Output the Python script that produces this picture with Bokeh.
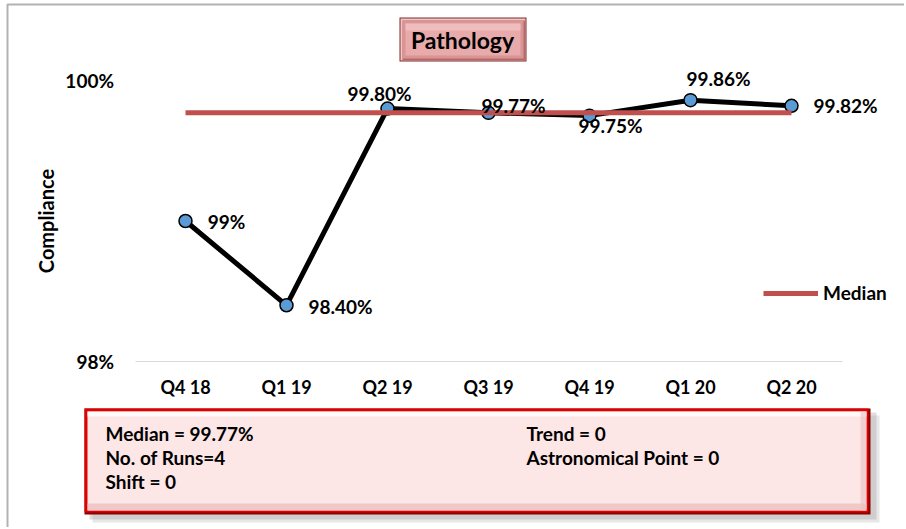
import numpy as np
from bokeh.plotting import figure
from bokeh.core.properties import value
from bokeh.models import (ColumnDataSource, LabelSet, Label, BoxAnnotation, FixedTicker,
                          CustomJSTickFormatter, Legend, LegendItem, Range1d)
from bokeh.embed import file_html
from bokeh.resources import INLINE

# ---------------- data ----------------
categories = ["Q4 18", "Q1 19", "Q2 19", "Q3 19", "Q4 19", "Q1 20", "Q2 20"]
values = [99.0, 98.4, 99.8, 99.77, 99.75, 99.86, 99.82]
value_labels = ["99%", "98.40%", "99.80%", "99.77%", "99.75%", "99.86%", "99.82%"]
y_ticks = [98, 100]
y_min, y_max = 98, 100
median_value = float(np.median(values))
n_runs = 4
shift = 0
trend = 0
astronomical_point = 0
chart_title = "Pathology"

# label offsets in pixels (styling)
label_dx = [41, 54, -8, 25, 21, 28, 54]
label_dy = [0, -1, 15, 7, -10, 22, 0]

FONT = "Lato"

# ---------------- geometry (page pixels) ----------------
W, H = 904, 527
FIRST_X = 185          # page x of first category centre
STEP = 101             # px per category
Y_LO_PX = 361          # page y of 98%
Y_HI_PX = 80           # page y of 100%
PX_PER_UNIT = (Y_LO_PX - Y_HI_PX) / (y_max - y_min)


def X(px):
    return (px - FIRST_X) / STEP


def Y(py):
    return y_min + (Y_LO_PX - py) / PX_PER_UNIT


def box(l, t, r, b, **kw):
    kw.setdefault("fill_alpha", 1)
    kw.setdefault("line_color", None)
    p.add_layout(BoxAnnotation(left=X(l), right=X(r), top=Y(t), bottom=Y(b), **kw))


xs = list(range(len(categories)))

p = figure(width=W, height=H, x_range=Range1d(X(0), X(W)), y_range=Range1d(Y(H), Y(0)),
           output_backend="svg", toolbar_location=None, min_border=0)
p.outline_line_color = None
p.grid.visible = False

# x axis drawn at the 98% level
p.xaxis.fixed_location = y_min
p.xaxis.ticker = FixedTicker(ticks=xs)
p.xaxis.major_label_overrides = {i: c for i, c in zip(xs, categories)}
p.xaxis.bounds = (-0.5, len(categories) - 0.5)
p.xaxis.axis_line_color = "#D9D9D9"
p.xaxis.axis_line_width = 1
p.xaxis.major_tick_line_color = None
p.xaxis.minor_tick_line_color = None
p.xaxis.major_label_standoff = 8
p.xaxis.major_label_text_font = FONT
p.xaxis.major_label_text_font_style = "bold"
p.xaxis.major_label_text_font_size = "18px"
p.xaxis.major_label_text_color = "black"

# y axis drawn at the left edge of the category band
p.yaxis.fixed_location = -0.5
p.yaxis.ticker = FixedTicker(ticks=y_ticks)
p.yaxis.bounds = (y_min, y_max)
p.yaxis.formatter = CustomJSTickFormatter(code="return tick.toFixed(0) + '%';")
p.yaxis.axis_line_color = None
p.yaxis.major_tick_line_color = None
p.yaxis.minor_tick_line_color = None
p.yaxis.major_label_standoff = 15
p.yaxis.major_label_text_font = FONT
p.yaxis.major_label_text_font_style = "bold"
p.yaxis.major_label_text_font_size = "19px"
p.yaxis.major_label_text_color = "black"
p.yaxis.axis_label = "Compliance"
p.yaxis.axis_label_text_font = FONT
p.yaxis.axis_label_text_font_style = "bold"
p.yaxis.axis_label_text_font_size = "20px"
p.yaxis.axis_label_text_color = "black"
p.yaxis.axis_label_standoff = 5

# outer border (top/left visible)
p.add_layout(BoxAnnotation(left=X(7), right=X(W + 40), top=Y(4), bottom=Y(H + 40),
                           fill_alpha=0, line_color="black", line_width=2))

# title box (bevelled)
box(399, 17, 526, 61, fill_color="#7B2C2C")
box(400, 18, 525, 60, fill_color="#F2C4C4")
box(402, 20, 525, 60, fill_color="#B86A6A")
box(402, 20, 523, 58, fill_color="#D99494")
box(405, 23, 520, 55, fill_color="#E8AAAA")
box(405, 23, 520, 30, fill_color="#EFBDBD")
p.add_layout(Label(x=X(462), y=Y(39), text=chart_title, text_align="center", text_baseline="middle",
                   text_font=FONT, text_font_style="bold", text_font_size="23px", text_color="black"))

# series
p.line(xs, values, line_width=5, color="black")
p.scatter(xs, values, size=13, fill_color="#5B9BD5", line_color="black", line_width=1.5)
med = p.line(xs, [median_value] * len(xs), line_width=5, color="#C0504D")

src = ColumnDataSource(dict(x=xs, y=values, text=value_labels, dx=label_dx, dy=label_dy))
p.add_layout(LabelSet(x="x", y="y", text="text", x_offset="dx", y_offset="dy", source=src,
                      text_align="center", text_baseline="middle", text_font=value(FONT),
                      text_font_style="bold", text_font_size="19px", text_color="black"))

legend = Legend(items=[LegendItem(label="Median", renderers=[med])],
                location=(763, H - 294 - 10),
                padding=0, margin=0, glyph_width=55, glyph_height=20, label_standoff=5,
                background_fill_alpha=0, border_line_alpha=0,
                label_text_font=FONT, label_text_font_style="bold", label_text_font_size="19px",
                label_text_color="black")
p.add_layout(legend)

# stats box with shadow and bevel
box(92, 415, 879, 522, fill_color="#A0A0A0", fill_alpha=0.25)
box(89, 412, 876, 519, fill_color="#A0A0A0", fill_alpha=0.35)
box(84, 408, 870, 514, fill_color="#8B0000")
box(84, 408, 868, 512, fill_color="#E00000")
box(87, 411, 866, 510, fill_color="#FDE6E6")
box(87, 411, 866, 416, fill_color="#FFFFFF", fill_alpha=0.8)
box(87, 503, 866, 510, fill_color="#EBC2C2", fill_alpha=0.8)
box(860, 411, 866, 510, fill_color="#EBC2C2", fill_alpha=0.6)

stats = [
    (105, 433, f"Median = {median_value:.2f}%"),
    (105, 457, f"No. of Runs={n_runs}"),
    (105, 481, f"Shift = {shift}"),
    (526, 433, f"Trend = {trend}"),
    (526, 457, f"Astronomical Point = {astronomical_point}"),
]
for sx, sy, t in stats:
    p.add_layout(Label(x=X(sx), y=Y(sy), text=t, text_align="left", text_baseline="middle",
                       text_font=FONT, text_font_style="bold", text_font_size="19px", text_color="black"))

open("out.html", "w").write(file_html(p, INLINE))
